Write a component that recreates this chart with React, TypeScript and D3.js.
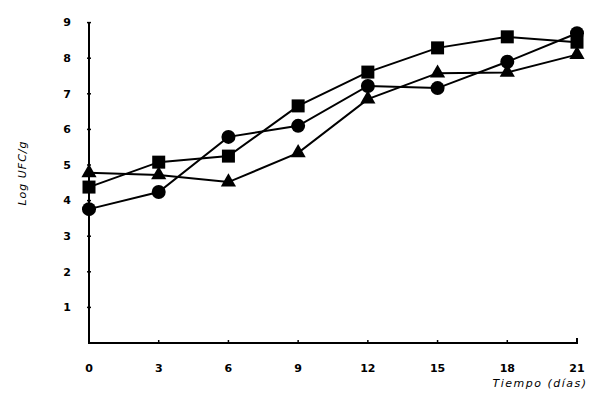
import React from "react";
import * as d3 from "d3";

const days = [0, 3, 6, 9, 12, 15, 18, 21];
const circleSeries = [3.76, 4.24, 5.79, 6.1, 7.22, 7.16, 7.9, 8.7];
const squareSeries = [4.38, 5.08, 5.25, 6.66, 7.61, 8.29, 8.6, 8.45];
const triangleSeries = [4.78, 4.72, 4.52, 5.34, 6.85, 7.58, 7.6, 8.1];
const yTicks = [1, 2, 3, 4, 5, 6, 7, 8, 9];
const xTicks = [0, 3, 6, 9, 12, 15, 18, 21];

export default function App() {
  const x = d3.scaleLinear().domain([0, 21]).range([89, 577]);
  const y = d3.scaleLinear().domain([0, 9]).range([343, 22.6]);
  const line = d3
    .line<number>()
    .x((_, i) => x(days[i]))
    .y((d) => y(d));
  const tri = d3.symbol().type(d3.symbolTriangle).size(100)();
  const font = "'DejaVu Sans', Arial, sans-serif";

  return (
    <svg
      width={600}
      height={402}
      style={{ position: "absolute", left: 0, top: 0, background: "#fff" }}
    >
      {/* axes */}
      <path
        d={`M${x(0)},${y(9)} V${y(0)} H${x(21)} V${y(0) - 5}`}
        fill="none"
        stroke="#000"
        strokeWidth={2}
      />
      {yTicks.map((t) => (
        <g key={"y" + t}>
          <line x1={x(0) - 2} x2={x(0) + 2} y1={y(t)} y2={y(t)} stroke="#000" strokeWidth={1.5} />
          <text
            x={67}
            y={y(t)}
            dy="0.35em"
            textAnchor="middle"
            fontFamily={font}
            fontWeight="bold"
            fontSize={11}
          >
            {t}
          </text>
        </g>
      ))}
      {xTicks.map((t) => (
        <g key={"x" + t}>
          <line x1={x(t)} x2={x(t)} y1={y(0)} y2={y(0) - 3} stroke="#000" strokeWidth={1.5} />
          <text
            x={x(t)}
            y={368}
            dy="0.35em"
            textAnchor="middle"
            fontFamily={font}
            fontWeight="bold"
            fontSize={11}
          >
            {t}
          </text>
        </g>
      ))}
      <text
        transform={`translate(22,173) rotate(-90)`}
        textAnchor="middle"
        dy="0.35em"
        fontFamily={font}
        fontStyle="italic"
        fontSize={11}
        letterSpacing={1}
      >
        Log UFC/g
      </text>
      <text
        x={540}
        y={383}
        dy="0.35em"
        textAnchor="middle"
        fontFamily={font}
        fontStyle="italic"
        fontSize={11}
        letterSpacing={1.5}
      >
        Tiempo (días)
      </text>

      {/* lines */}
      {[circleSeries, squareSeries, triangleSeries].map((s, k) => (
        <path key={"l" + k} d={line(s) || ""} fill="none" stroke="#000" strokeWidth={2} />
      ))}

      {/* markers */}
      {circleSeries.map((v, i) => (
        <circle key={"c" + i} cx={x(days[i])} cy={y(v)} r={7} fill="#000" />
      ))}
      {squareSeries.map((v, i) => (
        <rect key={"s" + i} x={x(days[i]) - 6.5} y={y(v) - 6.5} width={13} height={13} fill="#000" />
      ))}
      {triangleSeries.map((v, i) => (
        <path key={"t" + i} d={tri || ""} transform={`translate(${x(days[i])},${y(v)})`} fill="#000" />
      ))}
    </svg>
  );
}
